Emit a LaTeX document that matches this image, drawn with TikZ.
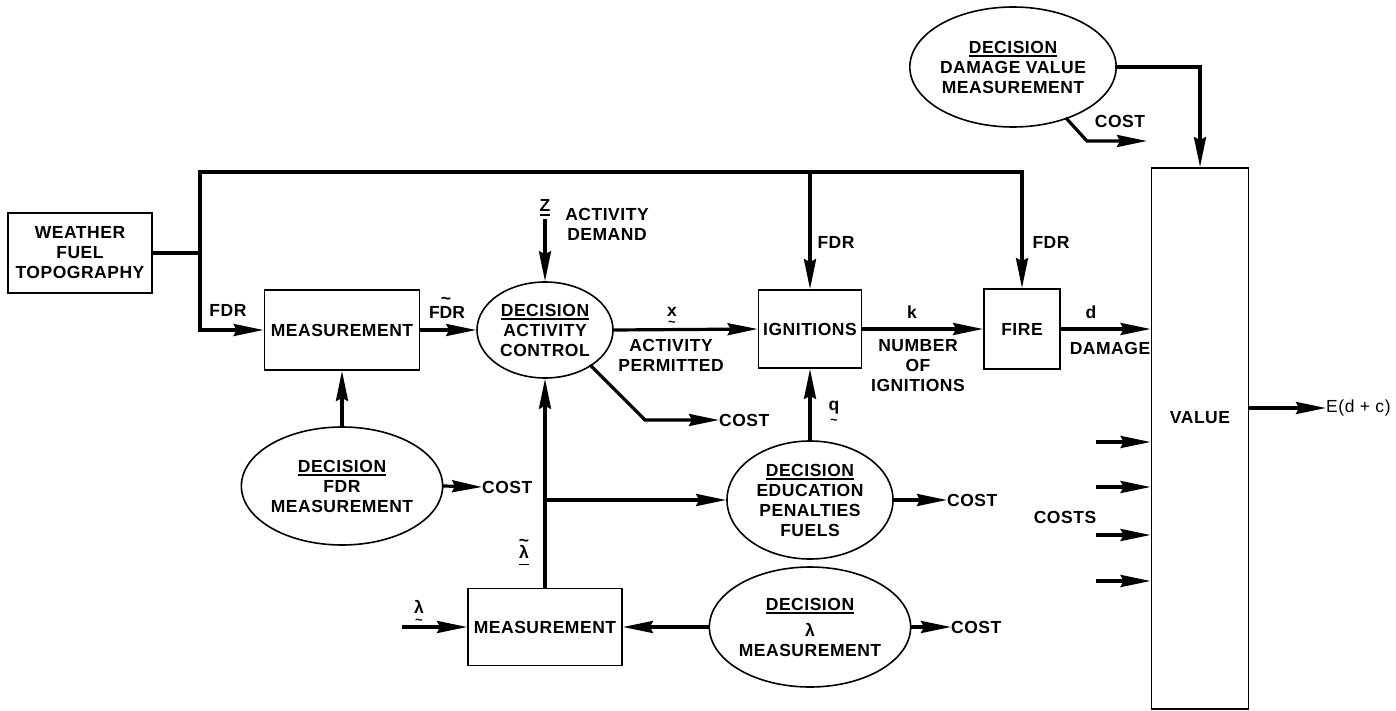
\documentclass[tikz,border=0pt]{standalone}
\usepackage{fontspec}
\setmainfont{Liberation Sans}[LetterSpace=3]
\usetikzlibrary{shapes.geometric,arrows.meta}

\newcommand\tilchar{\char"7E\relax}
% heavy underline used under DECISION and Z
\newcommand\decul[1]{\setbox0\hbox{#1}\rlap{\rule[-3.8pt]{\wd0}{1.4pt}}\box0}
% deeper underline for the estimated lambda
\newcommand\deepul[1]{\setbox0\hbox{#1}\rlap{\rule[-7pt]{\wd0}{1.4pt}}\box0}
% tilde set above a letter
\newcommand\ovtil[2][13pt]{{\ooalign{#2\cr\hidewidth\raisebox{#1}{\tilchar}\hidewidth\cr}}}
% small tilde set below a letter
\newcommand\until[2][-10pt]{{\ooalign{#2\cr\hidewidth\raisebox{#1}{\fontsize{13}{13}\selectfont\tilchar}\hidewidth\cr}}}

\tikzset{
  every node/.style={font=\fontsize{17.5}{20}\selectfont\bfseries, inner sep=0pt},
  blk/.style={draw, line width=1.8pt, rectangle, align=center},
  dec/.style={draw, line width=1.6pt, ellipse, align=center},
  conn/.style={line width=3.2pt, line cap=rect},
  arr/.style={conn, -{Stealth[length=30pt,width=12pt,inset=3pt]}},
  lbl/.style={align=center},
}

\begin{document}
\begin{tikzpicture}[x=1pt,y=-1pt]
\useasboundingbox (0,0) rectangle (1396,711);

% ---- boxes and decision ellipses ----
\node[blk, minimum width=144, minimum height=80] (wft) at (80,253) {WEATHER\\FUEL\\TOPOGRAPHY};
\node[blk, minimum width=155, minimum height=80] (meas1) at (342,330) {MEASUREMENT};
\node[dec, minimum width=136, minimum height=96] (actc) at (545,330) {\decul{DECISION}\\ACTIVITY\\CONTROL};
\node[blk, minimum width=103, minimum height=78] (ign) at (810,329) {IGNITIONS};
\node[blk, minimum width=76, minimum height=80] (fire) at (1022,329) {FIRE};
\node[blk, minimum width=97, minimum height=541] (value) at (1200,438.5) {};
\node (valtxt) at (1200,418) {VALUE};
\node[dec, minimum width=168, minimum height=118] (fdrm) at (342,486) {\decul{DECISION}\\FDR\\MEASUREMENT};
\node[dec, minimum width=166, minimum height=118] (edu) at (810,500) {\decul{DECISION}\\EDUCATION\\PENALTIES\\FUELS};
\node[blk, minimum width=154, minimum height=77] (meas2) at (545,627) {MEASUREMENT};
\node[dec, minimum width=168, minimum height=120] (lamd) at (810,627) {\decul{DECISION}\\[6pt]λ\\MEASUREMENT};
\node[dec, minimum width=162, minimum height=120] (dvm) at (1013,67) {\decul{DECISION}\\DAMAGE VALUE\\MEASUREMENT};

% ---- labels ----
\node[anchor=base] (lfdr1) at (228,316) {FDR};
\node[anchor=base] (lfdr2) at (447,318) {F\ovtil[14pt]{D}R};
\node[anchor=base] (lz) at (545,212) {\decul{Z}};
\node[lbl] (ldem) at (607,224) {ACTIVITY\\DEMAND};
\node[anchor=base] (lx) at (672,316) {\until{x}};
\node[lbl] (lperm) at (671,355) {ACTIVITY\\PERMITTED};
\node[anchor=west] (costA) at (719,420) {COST};
\node[anchor=west] (costB) at (482,487) {COST};
\node[anchor=base] (llt) at (524,558) {\deepul{\ovtil[12pt]{λ}}};
\node[anchor=west] (costC) at (947,500) {COST};
\node[anchor=base] (lq) at (834,410) {\until[-14pt]{q}};
\node[anchor=base] (ll) at (419,613) {\until[-11pt]{λ}};
\node[anchor=west] (costD) at (951,627) {COST};
\node[anchor=base] (lfdr3) at (836,248) {FDR};
\node[anchor=base] (lfdr4) at (1051,248) {FDR};
\node[anchor=base] (lk) at (912,318) {k};
\node[lbl] (lnum) at (918,366) {NUMBER\\OF\\IGNITIONS};
\node[anchor=base] (ld) at (1091,318) {d};
\node (ldam) at (1110,348) {DAMAGE};
\node (lcostE) at (1120,121) {COST};
\node (lcosts) at (1065,517) {COSTS};
\node[anchor=west, font=\fontsize{17.5}{20}\selectfont] (ledc) at (1326,408) {E(d + c)};

% ---- free ends and bends ----
\coordinate (tl) at (200,172);
\coordinate (zin) at (545,221);
\coordinate (cA) at (645,420);
\coordinate (lin) at (404,627);
\coordinate (cE) at (1087,141);
\coordinate (cE2) at (1147,141);
\coordinate (c1) at (1098,442);
\coordinate (c2) at (1098,487);
\coordinate (c3) at (1098,535);
\coordinate (c4) at (1098,581);

% ---- FDR distribution ----
\draw[conn] (wft.east) -- (wft.east -| tl);
\draw[arr] (tl) |- (meas1.west);
\draw[arr] (tl) -- (tl -| fire.north) -- (fire.north);
\draw[arr] (tl -| ign.north) -- (ign.north);

% ---- main chain ----
\draw[arr] (meas1.east) -- (actc.west);
\draw[arr] (zin) -- (actc.north);
\draw[arr] (actc.east) -- (ign.west);
\draw[arr] (actc.-38) -- (cA) -- (costA.west);
\draw[arr] (ign.east) -- (fire.west);
\draw[arr] (fire.east) -- (fire.east -| value.west);

% ---- lower decisions ----
\draw[arr] (fdrm.north) -- (meas1.south);
\draw[arr] (fdrm.east) -- (costB.west);
\draw[arr] (meas2.north) -- (actc.south);
\draw[arr] (meas2.north |- edu.west) -- (edu.west);
\draw[arr] (edu.north) -- (ign.south);
\draw[arr] (edu.east) -- (costC.west);
\draw[arr] (lin) -- (meas2.west);
\draw[arr] (lamd.west) -- (meas2.east);
\draw[arr] (lamd.east) -- (costD.west);

% ---- value side ----
\draw[arr] (dvm.east) -| (value.north);
\draw[arr] (dvm.-44) -- (cE) -- (cE2);
\draw[arr] (c1) -- (c1 -| value.west);
\draw[arr] (c2) -- (c2 -| value.west);
\draw[arr] (c3) -- (c3 -| value.west);
\draw[arr] (c4) -- (c4 -| value.west);
\draw[arr] (value.east |- ledc.west) -- (ledc.west);
\end{tikzpicture}
\end{document}
